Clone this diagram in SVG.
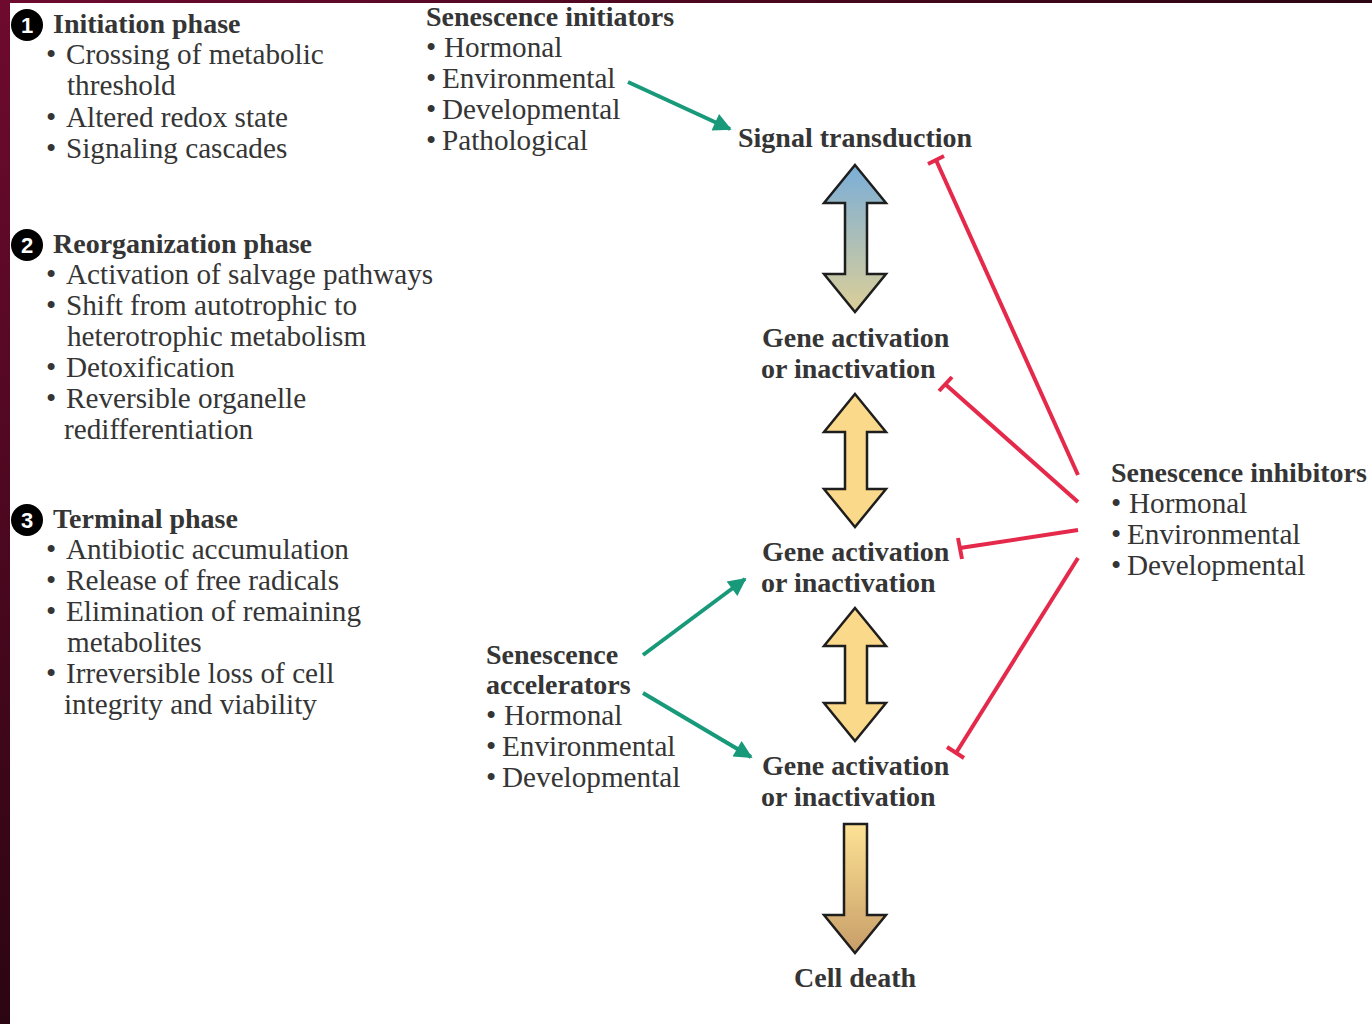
<svg xmlns="http://www.w3.org/2000/svg" width="1372" height="1024" viewBox="0 0 1372 1024">
<defs>
<linearGradient id="bord" x1="0" y1="0" x2="0" y2="1"><stop offset="0" stop-color="#6e0a2e"/><stop offset="1" stop-color="#2c0512"/></linearGradient>
<linearGradient id="bordt" x1="0" y1="0" x2="1" y2="0"><stop offset="0" stop-color="#6e0a2e"/><stop offset="1" stop-color="#2c0512"/></linearGradient>
<linearGradient id="gBlue" x1="0" y1="165" x2="0" y2="312" gradientUnits="userSpaceOnUse"><stop offset="0" stop-color="#7aaed8"/><stop offset="1" stop-color="#dccf98"/></linearGradient>
<linearGradient id="gDown" x1="0" y1="824" x2="0" y2="953" gradientUnits="userSpaceOnUse"><stop offset="0" stop-color="#fde294"/><stop offset="1" stop-color="#c79d68"/></linearGradient>
<marker id="ah" viewBox="0 0 10 10" refX="9" refY="5" markerWidth="5.5" markerHeight="4.5" orient="auto" markerUnits="strokeWidth"><path d="M0,0 L10,5 L0,10 z" fill="#17997a"/></marker>
</defs>
<style>
text{font-family:"Liberation Serif","Times New Roman",serif;font-size:29.2px;fill:#353535}
.b{font-weight:bold;font-size:28px}
.num{font-family:"Liberation Sans",Arial,sans-serif;font-weight:bold;font-size:22px;fill:#fff}
.grn{stroke:#17997a;stroke-width:4;fill:none;marker-end:url(#ah)}
.red{stroke:#e5294b;stroke-width:4;fill:none}
.dbl{stroke:#1e1e1e;stroke-width:2.5;stroke-linejoin:miter}
</style>
<rect width="1372" height="1024" fill="#fff"/>
<rect x="0" y="0" width="10" height="1024" fill="url(#bord)"/>
<rect x="0" y="0" width="1372" height="3" fill="url(#bordt)"/>

<g id="phase1">
<circle cx="27" cy="25" r="16" fill="#000"/><text class="num" x="27" y="33" text-anchor="middle">1</text>
<text class="b" x="53" y="33">Initiation phase</text>
<text x="46" y="64">•<tspan x="66">Crossing of metabolic</tspan></text>
<text x="67" y="95">threshold</text>
<text x="46" y="127">•<tspan x="66">Altered redox state</tspan></text>
<text x="46" y="158">•<tspan x="66">Signaling cascades</tspan></text>
</g>
<g id="phase2">
<circle cx="27" cy="245" r="16" fill="#000"/><text class="num" x="27" y="253" text-anchor="middle">2</text>
<text class="b" x="53" y="253">Reorganization phase</text>
<text x="46" y="284">•<tspan x="66">Activation of salvage pathways</tspan></text>
<text x="46" y="315">•<tspan x="66">Shift from autotrophic to</tspan></text>
<text x="67" y="346">heterotrophic metabolism</text>
<text x="46" y="377">•<tspan x="66">Detoxification</tspan></text>
<text x="46" y="408">•<tspan x="66">Reversible organelle</tspan></text>
<text x="64" y="439">redifferentiation</text>
</g>
<g id="phase3">
<circle cx="27" cy="520" r="16" fill="#000"/><text class="num" x="27" y="528" text-anchor="middle">3</text>
<text class="b" x="53" y="528">Terminal phase</text>
<text x="46" y="559">•<tspan x="66">Antibiotic accumulation</tspan></text>
<text x="46" y="590">•<tspan x="66">Release of free radicals</tspan></text>
<text x="46" y="621">•<tspan x="66">Elimination of remaining</tspan></text>
<text x="67" y="652">metabolites</text>
<text x="46" y="683">•<tspan x="66">Irreversible loss of cell</tspan></text>
<text x="64" y="714">integrity and viability</text>
</g>

<g id="initiators">
<text class="b" x="426" y="26">Senescence initiators</text>
<text x="426" y="57">•<tspan x="444">Hormonal</tspan></text>
<text x="426" y="88">•<tspan x="442">Environmental</tspan></text>
<text x="426" y="119">•<tspan x="442">Developmental</tspan></text>
<text x="426" y="150">•<tspan x="442">Pathological</tspan></text>
</g>
<g id="signal"><text class="b" x="738" y="147">Signal transduction</text></g>
<g id="gene1"><text class="b" x="762" y="347">Gene activation</text><text class="b" x="761" y="378">or inactivation</text></g>
<g id="gene2"><text class="b" x="762" y="561">Gene activation</text><text class="b" x="761" y="592">or inactivation</text></g>
<g id="gene3"><text class="b" x="762" y="775">Gene activation</text><text class="b" x="761" y="806">or inactivation</text></g>
<g id="death"><text class="b" x="794" y="987">Cell death</text></g>
<g id="accelerators">
<text class="b" x="486" y="664">Senescence</text>
<text class="b" x="486" y="694">accelerators</text>
<text x="486" y="725">•<tspan x="504">Hormonal</tspan></text>
<text x="486" y="756">•<tspan x="502">Environmental</tspan></text>
<text x="486" y="787">•<tspan x="502">Developmental</tspan></text>
</g>
<g id="inhibitors">
<text class="b" x="1111" y="482">Senescence inhibitors</text>
<text x="1111" y="513">•<tspan x="1129">Hormonal</tspan></text>
<text x="1111" y="544">•<tspan x="1127">Environmental</tspan></text>
<text x="1111" y="575">•<tspan x="1127">Developmental</tspan></text>
</g>

<g id="connectors">
<path class="dbl" fill="url(#gBlue)" d="M855,165 L886,203 L867,203 L867,274 L886,274 L855,312 L824,274 L845,274 L845,203 L824,203 Z"/>
<path class="dbl" fill="#fbd98b" d="M855,394 L886,432 L867,432 L867,489 L886,489 L855,527 L824,489 L845,489 L845,432 L824,432 Z"/>
<path class="dbl" fill="#fbd98b" d="M855,608 L886,646 L867,646 L867,703 L886,703 L855,741 L824,703 L845,703 L845,646 L824,646 Z"/>
<path class="dbl" fill="url(#gDown)" d="M844,824 L867,824 L867,915 L886,915 L855,953 L824,915 L844,915 Z"/>
<line class="grn" x1="628" y1="82" x2="730" y2="129"/>
<line class="grn" x1="643" y1="655" x2="745" y2="579"/>
<line class="grn" x1="643" y1="693" x2="751" y2="757"/>
<line class="red" x1="1078" y1="475" x2="936" y2="160"/><line class="red" x1="944" y1="156" x2="928" y2="164"/>
<line class="red" x1="1078" y1="502" x2="945" y2="384"/><line class="red" x1="952" y1="377" x2="939" y2="391"/>
<line class="red" x1="1078" y1="530" x2="960" y2="548"/><line class="red" x1="958" y1="538" x2="962" y2="559"/>
<line class="red" x1="1078" y1="558" x2="956" y2="753"/><line class="red" x1="947" y1="747" x2="964" y2="758"/>
</g>
</svg>
